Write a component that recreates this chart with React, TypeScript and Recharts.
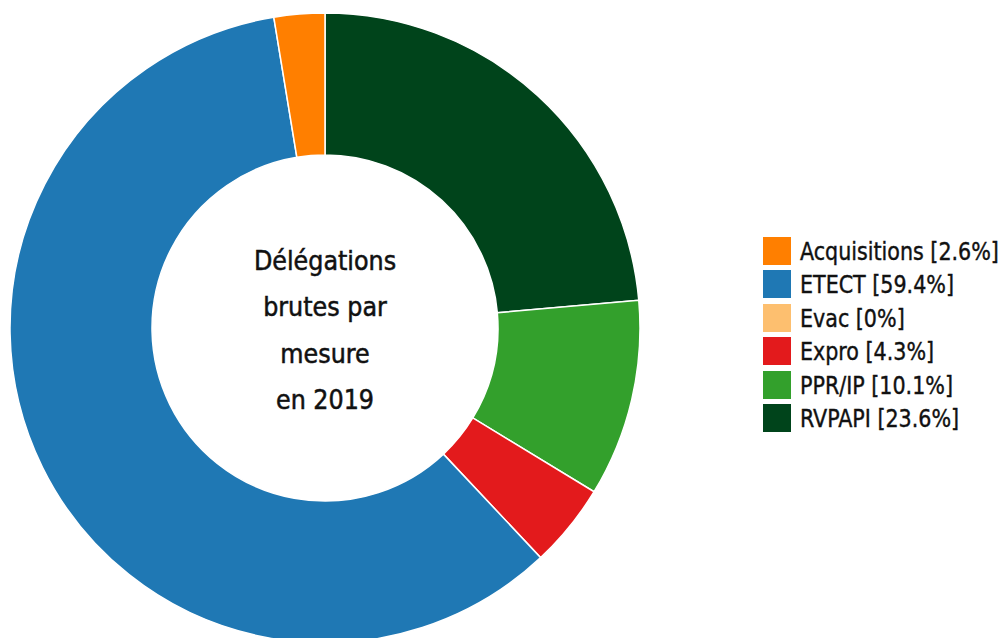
import { Cell, Legend, Pie, PieChart } from 'recharts';

// ----------------------------------------------------------------------

const categories = ['RVPAPI', 'PPR/IP', 'Expro', 'Evac', 'ETECT', 'Acquisitions'];
const shares = [23.6, 10.1, 4.3, 0, 59.4, 2.6];
const colors = ['#00441b', '#33a02c', '#e31a1c', '#fdbf6f', '#1f78b4', '#ff7f00'];
const legendOrder = ['Acquisitions', 'ETECT', 'Evac', 'Expro', 'PPR/IP', 'RVPAPI'];
const centerLines = ['Délégations', 'brutes par', 'mesure', 'en 2019'];

const FONT = '"DejaVu Sans Condensed", "DejaVu Sans", sans-serif';

const data = categories.map((name, i) => ({ name, value: shares[i], color: colors[i] }));

const CX = 325;
const CY = 328;

// ----------------------------------------------------------------------

function CenterText() {
  const lineHeight = 46.5;
  const first = CY + 2 - ((centerLines.length - 1) * lineHeight) / 2;
  return (
    <svg
      width={1005}
      height={638}
      style={{ position: 'absolute', left: 0, top: 0, pointerEvents: 'none' }}
    >
      <text
        textAnchor="middle"
        fontFamily={FONT}
        fontSize={26.5}
        fill="#111"
        stroke="#111"
        strokeWidth={0.5}
        style={{ fontStretch: 'condensed' }}
      >
        {centerLines.map((line, i) => (
          <tspan key={line} x={CX} y={first + i * lineHeight} dominantBaseline="central">
            {line}
          </tspan>
        ))}
      </text>
    </svg>
  );
}

function LegendList() {
  return (
    <div
      style={{
        fontFamily: FONT,
        fontStretch: 'condensed',
        fontSize: 25.5,
        color: '#111',
        WebkitTextStroke: '0.4px #111',
      }}
    >
      {legendOrder.map((name) => {
        const d = data.find((x) => x.name === name)!;
        return (
          <div
            key={name}
            style={{ display: 'flex', alignItems: 'center', height: 33.5, whiteSpace: 'nowrap' }}
          >
            <span
              style={{
                width: 28,
                height: 28,
                background: d.color,
                display: 'inline-block',
                marginRight: 9,
                flexShrink: 0,
              }}
            />
            <span style={{ display: 'inline-block', transform: 'scaleX(0.9)', transformOrigin: 'left center' }}>
              {`${name} [${d.value}%]`}
            </span>
          </div>
        );
      })}
    </div>
  );
}

export default function App() {
  return (
    <div style={{ position: 'absolute', left: 0, top: 0, width: 1005, height: 638, background: '#fff' }}>
      <PieChart width={1005} height={638} margin={{ top: 0, right: 0, bottom: 0, left: 0 }}>
        <Pie
          data={data}
          dataKey="value"
          nameKey="name"
          cx={CX}
          cy={CY}
          innerRadius={173}
          outerRadius={315}
          startAngle={90}
          endAngle={-270}
          stroke="#fff"
          strokeWidth={1.5}
          isAnimationActive={false}
        >
          {data.map((d) => (
            <Cell key={d.name} fill={d.color} />
          ))}
        </Pie>
        <Legend
          layout="vertical"
          content={<LegendList />}
          wrapperStyle={{ left: 763, top: 234, width: 242 }}
        />
      </PieChart>
      <CenterText />
    </div>
  );
}
